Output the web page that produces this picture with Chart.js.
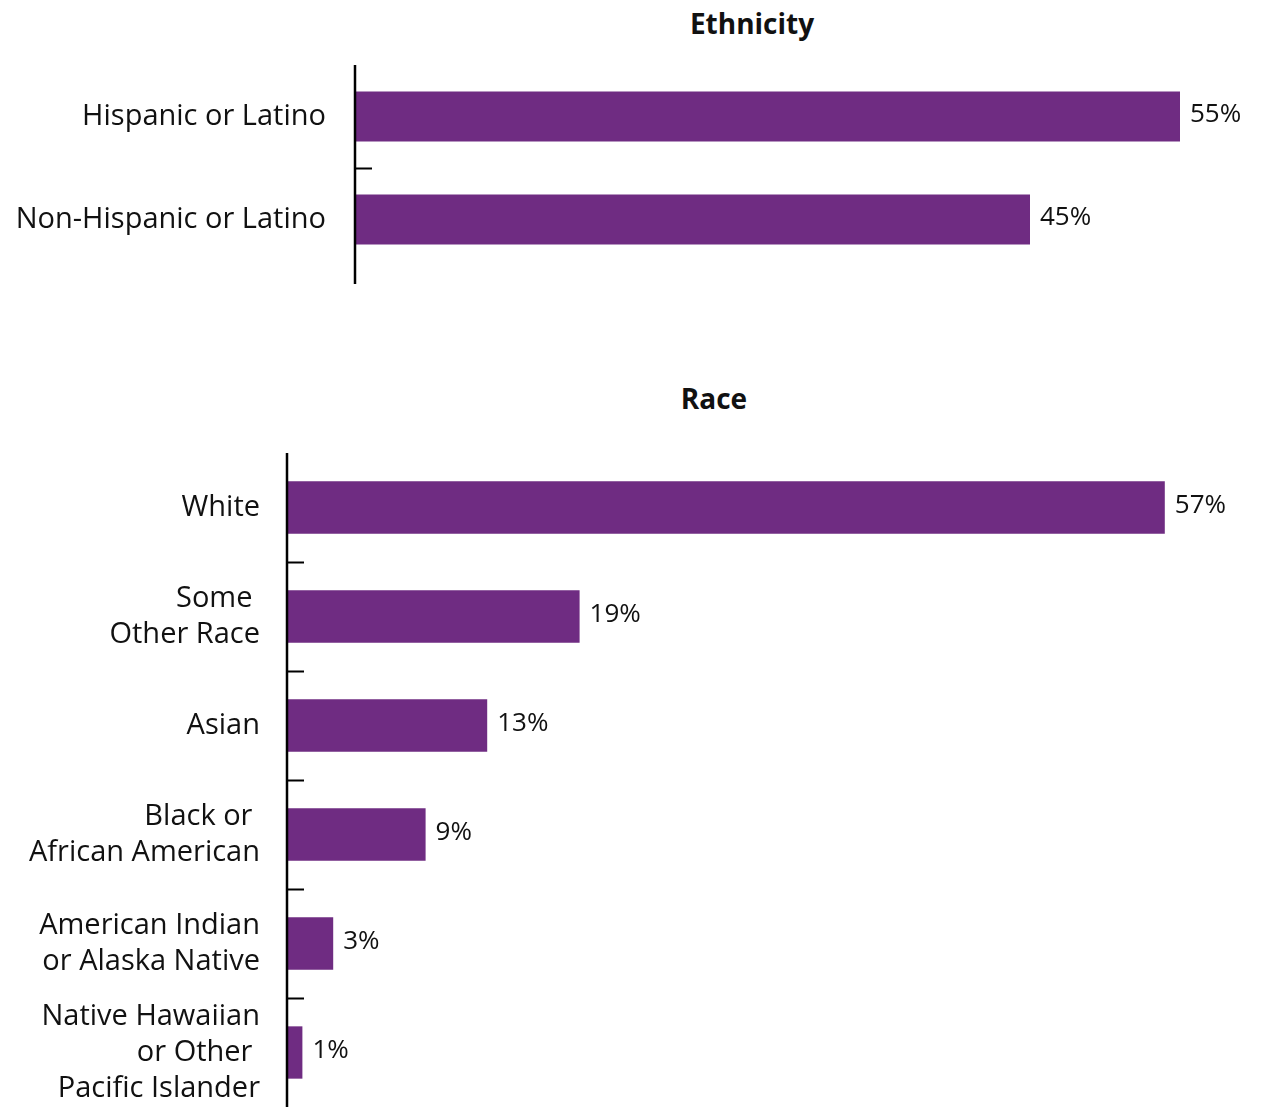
<!DOCTYPE html>
<html>
<head>
<meta charset="utf-8">
<script src="https://cdn.jsdelivr.net/npm/chart.js@4/dist/chart.umd.min.js"></script>
<style>
  html, body { margin: 0; padding: 0; background: #fff; }
  body { width: 1275px; height: 1107px; position: relative; overflow: hidden; font-family: "Open Sans", Lato, sans-serif; }
  .title { position: absolute; font-weight: bold; font-size: 28px; color: #111; transform: translate(-50%, -50%); white-space: nowrap; }
  canvas { position: absolute; left: 0; }
</style>
</head>
<body>
<div class="title" style="left:752px; top:23px;">Ethnicity</div>
<div class="title" style="left:714px; top:398px;">Race</div>
<canvas id="eth" width="1275" height="290" style="top:0px;"></canvas>
<canvas id="race" width="1275" height="727" style="top:380px;"></canvas>
<script>
const ethCategories = ['Hispanic or Latino', 'Non-Hispanic or Latino'];
const ethValues = [55, 45];

const raceCategories = [
  'White',
  ['Some ', 'Other Race'],
  'Asian',
  ['Black or ', 'African American'],
  ['American Indian', 'or Alaska Native'],
  ['Native Hawaiian', 'or Other ', 'Pacific Islander']
];
const raceValues = [57, 19, 13, 9, 3, 1];

const BAR_COLOR = '#6F2C82';
const TEXT_COLOR = '#111111';
const FONT = '"Open Sans", Lato, sans-serif';

const axisPlugin = {
  id: 'axisTicks',
  afterDatasetsDraw(chart, args, opts) {
    const ctx = chart.ctx;
    const y = chart.scales.y;
    const x0 = chart.chartArea.left;
    ctx.save();
    const meta = chart.getDatasetMeta(0);
    ctx.font = '26px ' + FONT;
    ctx.fillStyle = TEXT_COLOR;
    ctx.textAlign = 'left';
    ctx.textBaseline = 'middle';
    meta.data.forEach((bar, i) => {
      const v = chart.data.datasets[0].data[i];
      ctx.fillText(v + '%', bar.x + 10, bar.y - 2);
    });
    ctx.strokeStyle = '#000';
    ctx.lineWidth = 2.5;
    ctx.beginPath();
    ctx.moveTo(x0, chart.chartArea.top + (opts.topExtend || 0));
    ctx.lineTo(x0, chart.chartArea.bottom + (opts.bottomExtend || 0));
    ctx.stroke();
    ctx.lineWidth = 2;
    const n = chart.data.labels.length;
    for (let i = 0; i < n - 1; i++) {
      const yb = Math.round((y.getPixelForValue(i) + y.getPixelForValue(i + 1)) / 2) + 0.5;
      ctx.beginPath();
      ctx.moveTo(x0, yb);
      ctx.lineTo(x0 + 17, yb);
      ctx.stroke();
    }
    ctx.restore();
  }
};

function makeChart(id, labels, values, cfg) {
  return new Chart(document.getElementById(id), {
    type: 'bar',
    data: {
      labels: labels,
      datasets: [{
        data: values,
        backgroundColor: BAR_COLOR,
        borderWidth: 0,
        categoryPercentage: 1.0,
        barPercentage: cfg.barPct
      }]
    },
    options: {
      indexAxis: 'y',
      responsive: false,
      animation: false,
      layout: { padding: { left: 0, right: cfg.padRight, top: cfg.padTop, bottom: cfg.padBottom } },
      plugins: {
        legend: { display: false },
        tooltip: { enabled: false },
        title: { display: false },
        axisTicks: { bottomExtend: cfg.bottomExtend || 0, topExtend: 0 }
      },
      scales: {
        x: { display: false, min: 0, max: cfg.xMax },
        y: {
          grid: { display: false, drawTicks: false },
          border: { display: false },
          ticks: {
            color: TEXT_COLOR,
            padding: cfg.tickPad,
            font: { family: FONT, size: 29, lineHeight: 1.24 },
            autoSkip: false
          },
          afterFit(scale) {
            scale.width = cfg.axisX;
            scale.paddingTop = 0;
            scale.paddingBottom = 0;
          }
        }
      }
    },
    plugins: [axisPlugin]
  });
}

makeChart('eth', ethCategories, ethValues, {
  barPct: 0.485, padRight: 20, padTop: 65, padBottom: 19, xMax: 60,
  tickPad: 29, axisX: 355, bottomExtend: 13
});

makeChart('race', raceCategories, raceValues, {
  barPct: 0.48, padRight: 64, padTop: 73, padBottom: 0, xMax: 60,
  tickPad: 27, axisX: 287, bottomExtend: 0
});
</script>
</body>
</html>
